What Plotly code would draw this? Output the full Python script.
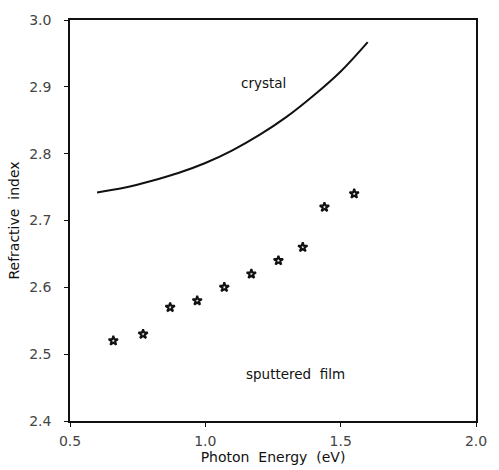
import plotly.graph_objects as go

# Refractive index of the bulk crystal (smooth dispersion curve)
crystal_energy = [0.60, 0.70, 0.80, 0.90, 1.00, 1.10, 1.20, 1.30, 1.40, 1.50, 1.60]
crystal_index = [2.742, 2.749, 2.759, 2.771, 2.786, 2.805, 2.828, 2.855, 2.887, 2.923, 2.967]

# Refractive index of the sputtered film (measured points)
film_energy = [0.66, 0.77, 0.87, 0.97, 1.07, 1.17, 1.27, 1.36, 1.44, 1.55]
film_index = [2.52, 2.53, 2.57, 2.58, 2.60, 2.62, 2.64, 2.66, 2.72, 2.74]

x_ticks = [0.5, 1.0, 1.5, 2.0]
y_ticks = [2.4, 2.5, 2.6, 2.7, 2.8, 2.9, 3.0]

font_family = "DejaVu Sans"
ink = "#111111"

fig = go.Figure()
fig.add_trace(go.Scatter(
    x=crystal_energy, y=crystal_index, mode="lines",
    line=dict(color=ink, width=2, shape="spline", smoothing=1.0),
    showlegend=False, hoverinfo="skip",
))
fig.add_trace(go.Scatter(
    x=film_energy, y=film_index, mode="markers",
    marker=dict(symbol="star-open", size=7, color=ink, line=dict(width=2, color=ink)),
    showlegend=False, hoverinfo="skip",
))

fig.add_annotation(x=1.216, y=2.906, text="crystal", showarrow=False,
                   font=dict(family=font_family, size=13.5, color=ink))
fig.add_annotation(x=1.334, y=2.470, text="sputtered&nbsp;&nbsp;film", showarrow=False,
                   font=dict(family=font_family, size=13.5, color=ink))

axis_common = dict(
    showgrid=False, zeroline=False,
    showline=True, linecolor=ink, linewidth=1.6, mirror=True,
    ticks="outside", ticklen=4, tickwidth=1, tickcolor=ink,
    tickfont=dict(family=font_family, size=14, color="#444444"),
)

fig.update_xaxes(
    range=[0.5, 2.0], tickvals=x_ticks, ticktext=[f"{v:.1f}" for v in x_ticks],
    ticklabelstandoff=2,
    title=dict(text="Photon&nbsp;&nbsp;Energy&nbsp;&nbsp;(eV)", standoff=0,
               font=dict(family=font_family, size=14, color=ink)),
    **axis_common,
)
fig.update_yaxes(
    range=[2.4, 3.0], tickvals=y_ticks, ticktext=[f"{v:.1f}" for v in y_ticks],
    ticklabelstandoff=10,
    title=dict(text="Refractive&nbsp;&nbsp;index", standoff=6,
               font=dict(family=font_family, size=14, color=ink)),
    **axis_common,
)

fig.update_layout(
    width=499, height=470,
    margin=dict(l=70, r=12, t=15, b=42),
    paper_bgcolor="white", plot_bgcolor="white",
)

fig.write_html("out.html")
